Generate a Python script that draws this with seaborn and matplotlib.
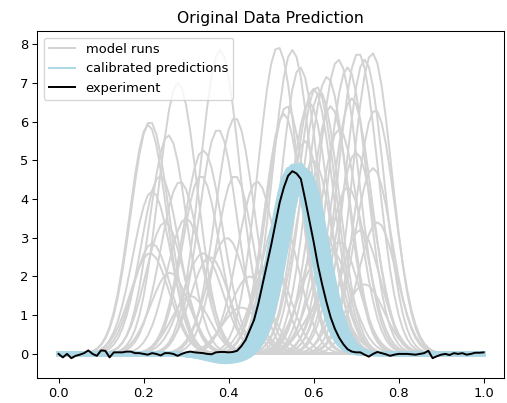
import numpy as np
import pandas as pd
import matplotlib
matplotlib.use("Agg")
import matplotlib.pyplot as plt
from matplotlib.lines import Line2D
import seaborn as sns

# ---------------- data ----------------
x_grid = np.round(np.arange(0, 101) * 0.01, 2)

experiment = [
    0.00, -0.09, 0.00, -0.11, -0.05, -0.02, 0.02, 0.09, 0.00, -0.05,
    0.09, 0.08, -0.09, 0.04, 0.04, 0.04, 0.06, 0.06, 0.02, 0.02,
    0.00, -0.02, 0.02, 0.00, -0.04, 0.02, 0.02, 0.00, -0.05, 0.00,
    0.04, 0.06, 0.04, 0.03, 0.02, 0.00, -0.01, 0.04, 0.05, 0.05,
    0.04, 0.05, 0.08, 0.20, 0.36, 0.62, 0.88, 1.30, 1.80, 2.30,
    2.80, 3.35, 3.90, 4.30, 4.60, 4.72, 4.66, 4.52, 4.00, 3.45,
    2.90, 2.30, 1.80, 1.35, 0.95, 0.65, 0.42, 0.25, 0.12, 0.06,
    0.04, 0.04, -0.02, -0.07, 0.00, 0.05, 0.02, -0.01, -0.05, -0.02,
    0.00, 0.00, 0.00, -0.01, -0.02, 0.00, 0.02, 0.08, -0.11, -0.06,
    -0.02, 0.00, -0.03, 0.02, 0.00, 0.02, -0.02, 0.00, 0.03, 0.03,
    0.04,
]

# model runs: peak position, peak height, peak width
run_centers = [
    0.215, 0.211, 0.281, 0.380, 0.258, 0.415, 0.375, 0.340, 0.239, 0.286,
    0.415, 0.467, 0.220, 0.220, 0.215, 0.262, 0.340, 0.356, 0.396, 0.335,
    0.300, 0.450, 0.310, 0.430, 0.250,
    0.516, 0.550, 0.568, 0.600, 0.607, 0.615, 0.632, 0.640, 0.658, 0.680,
    0.705, 0.720, 0.738, 0.537, 0.530, 0.590, 0.620, 0.640, 0.610, 0.750,
    0.710, 0.660, 0.580, 0.660, 0.700, 0.740, 0.560, 0.680, 0.520, 0.720,
    0.630, 0.500, 0.745, 0.690, 0.600,
]
run_heights = [
    6.00, 5.92, 7.00, 7.85, 5.65, 6.10, 5.80, 5.26, 4.60, 4.45,
    4.60, 4.45, 4.20, 2.85, 2.60, 2.10, 2.60, 2.50, 3.00, 4.60,
    3.50, 2.00, 1.50, 1.20, 3.40,
    7.93, 7.85, 7.40, 6.85, 6.90, 6.77, 7.16, 6.40, 7.60, 7.40,
    7.77, 7.60, 7.77, 6.40, 6.20, 6.50, 3.20, 2.70, 2.40, 3.40,
    3.20, 2.90, 5.50, 5.80, 5.20, 4.80, 4.20, 4.30, 3.60, 1.80,
    1.50, 2.40, 6.30, 6.60, 5.00,
]
run_widths = [
    0.045, 0.044, 0.046, 0.047, 0.044, 0.046, 0.045, 0.047, 0.045, 0.046,
    0.044, 0.046, 0.045, 0.044, 0.046, 0.045, 0.047, 0.045, 0.046, 0.044,
    0.045, 0.047, 0.044, 0.046, 0.045,
    0.047, 0.046, 0.045, 0.047, 0.046, 0.045, 0.047, 0.046, 0.048, 0.046,
    0.047, 0.045, 0.046, 0.047, 0.045, 0.046, 0.045, 0.047, 0.046, 0.045,
    0.047, 0.046, 0.045, 0.047, 0.046, 0.045, 0.047, 0.046, 0.045, 0.046,
    0.047, 0.045, 0.046, 0.047, 0.045,
]

# calibrated predictions: peak position, height, width, depth of left dip
cal_centers = [0.545, 0.550, 0.555, 0.560, 0.564, 0.567, 0.571, 0.575, 0.580, 0.585, 0.558, 0.569]
cal_heights = [4.80, 4.85, 4.88, 4.86, 4.82, 4.90, 4.84, 4.78, 4.74, 4.70, 4.76, 4.72]
cal_widths = [0.047, 0.046, 0.048, 0.047, 0.049, 0.046, 0.047, 0.048, 0.046, 0.047, 0.050, 0.045]
cal_dips = [0.20, 0.10, 0.15, 0.05, 0.22, 0.12, 0.18, 0.08, 0.14, 0.20, 0.10, 0.16]
dip_center = 0.40
dip_width = 0.05

# ---------------- build long tables ----------------
def bump(c, h, w):
    return h * np.exp(-((x_grid - c) ** 2) / (2 * w ** 2))

rows = []
for i, (c, h, w) in enumerate(zip(run_centers, run_heights, run_widths)):
    for xv, yv in zip(x_grid, bump(c, h, w)):
        rows.append((i, xv, yv))
runs_df = pd.DataFrame(rows, columns=["run", "x", "y"])

rows = []
for i, (c, h, w, d) in enumerate(zip(cal_centers, cal_heights, cal_widths, cal_dips)):
    yv_all = bump(c, h, w) - bump(dip_center, d, dip_width)
    for xv, yv in zip(x_grid, yv_all):
        rows.append((i, xv, yv))
cal_df = pd.DataFrame(rows, columns=["run", "x", "y"])

exp_df = pd.DataFrame({"x": x_grid, "y": experiment})

# ---------------- plot ----------------
DPI = 94
fig = plt.figure(figsize=(507 / DPI, 403 / DPI), dpi=DPI)
ax = fig.add_axes([0.0736, 0.0613, 0.9205, 0.8617])

sns.lineplot(data=runs_df, x="x", y="y", units="run", estimator=None,
             color="lightgray", linewidth=1.5, ax=ax, legend=False)
sns.lineplot(data=cal_df, x="x", y="y", units="run", estimator=None,
             color="lightblue", linewidth=3.5, ax=ax, legend=False)
sns.lineplot(data=exp_df, x="x", y="y", color="black", linewidth=1.5,
             ax=ax, legend=False)

ax.set_xlim(-0.05, 1.048)
ax.set_ylim(-0.63, 8.34)
ax.set_xticks([0.0, 0.2, 0.4, 0.6, 0.8, 1.0])
ax.set_yticks(range(0, 9))
ax.set_xlabel("")
ax.set_ylabel("")
ax.set_title("Original Data Prediction", fontsize=12)
ax.tick_params(labelsize=10)

handles = [
    Line2D([0], [0], color="lightgray", lw=1.5),
    Line2D([0], [0], color="lightblue", lw=1.5),
    Line2D([0], [0], color="black", lw=1.5),
]
ax.legend(handles, ["model runs", "calibrated predictions", "experiment"],
          loc="upper left", fontsize=10)

fig.savefig("out.png", dpi=DPI)
